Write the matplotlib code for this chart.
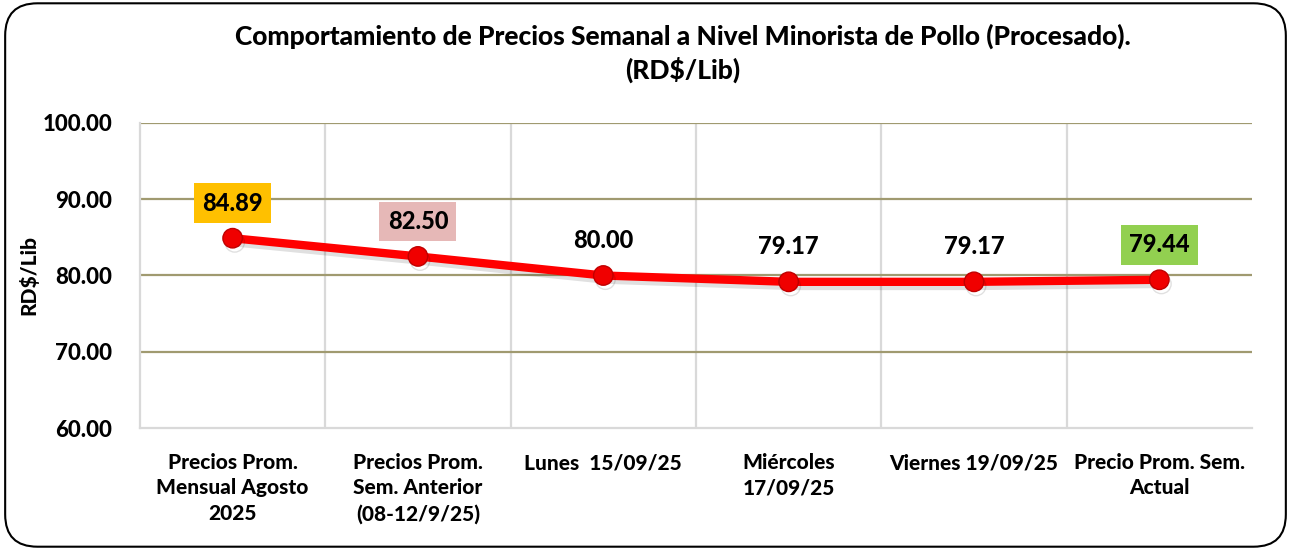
import matplotlib
matplotlib.use("Agg")
import matplotlib.pyplot as plt
from matplotlib.patches import FancyBboxPatch
import matplotlib.patheffects as pe

plt.rcParams['font.family'] = ['Lato', 'DejaVu Sans']

categories = ["Precios Prom.\nMensual Agosto\n2025", "Precios Prom.\nSem. Anterior\n(08-12/9/25)",
              "Lunes  15/09/25", "Miércoles\n17/09/25", "Viernes 19/09/25", "Precio Prom. Sem.\nActual"]
values = [84.89, 82.50, 80.00, 79.17, 79.17, 79.44]
labels = ["84.89", "82.50", "80.00", "79.17", "79.17", "79.44"]
label_colors = ["#FFC000", "#E6B8B7", None, None, None, "#92D050"]
yticks = [60, 70, 80, 90, 100]

W = "black"

fig = plt.figure(figsize=(12.91, 5.5), dpi=100)
border = FancyBboxPatch((0.004, 0.006), 0.992, 0.988, boxstyle="round,pad=0,rounding_size=0.025",
                        transform=fig.transFigure, facecolor="none", edgecolor="black", linewidth=1.5,
                        mutation_aspect=1291/550, zorder=10)
fig.patches.append(border)

ax = fig.add_axes([0.1084, 0.2218, 0.8614, 0.5546])
ax.set_facecolor("white")
x = list(range(len(values)))
ax.set_xlim(-0.5, len(values) - 0.5)
ax.set_ylim(60, 100)
ax.set_yticks(yticks)
ax.set_yticklabels([f"{v:.2f}" for v in yticks], fontsize=16, fontweight=W)
ax.set_xticks(x)
ax.set_xticklabels(categories, fontsize=15, fontweight=W, linespacing=1.4)
ax.tick_params(axis="both", length=0)
ax.tick_params(axis="x", pad=18)
ax.tick_params(axis="y", pad=20)
for yv in yticks[1:]:
    ax.axhline(yv, color="#A09A70", linewidth=1.6, zorder=1)
for b in [i + 0.5 for i in x[:-1]]:
    ax.axvline(b, color="#D9D9D9", linewidth=1.6, zorder=0)
for s in ["top", "right"]:
    ax.spines[s].set_visible(False)
ax.spines["left"].set_color("#D9D9D9")
ax.spines["left"].set_linewidth(1.6)
ax.spines["bottom"].set_color("#D9D9D9")
ax.spines["bottom"].set_linewidth(1.6)

ax.plot(x, values, color="red", linewidth=6, marker="o", markersize=14,
        markerfacecolor="#F00000", markeredgecolor="#C00000", markeredgewidth=1, zorder=5,
        path_effects=[pe.SimpleLineShadow(offset=(1.5, -3), shadow_color="black", alpha=0.12), pe.Normal()])

for xi, v, lab, c in zip(x, values, labels, label_colors):
    kw = dict(ha="center", va="center", fontsize=17, fontweight=W, zorder=6)
    if c:
        kw["bbox"] = dict(boxstyle="square,pad=0.35", facecolor=c, edgecolor="none")
    ax.annotate(lab, (xi, v), xytext=(0, 35), textcoords="offset pixels", **kw)

ax.set_ylabel("RD$/Lib", fontsize=15, fontweight=W, labelpad=3)

fig.text(0.529, 0.934, "Comportamiento de Precios Semanal a Nivel Minorista de Pollo (Procesado).",
         ha="center", va="center", fontsize=19, fontweight=W)
fig.text(0.529, 0.873, "(RD$/Lib)", ha="center", va="center", fontsize=19, fontweight=W)

fig.savefig("out.png", dpi=100)
